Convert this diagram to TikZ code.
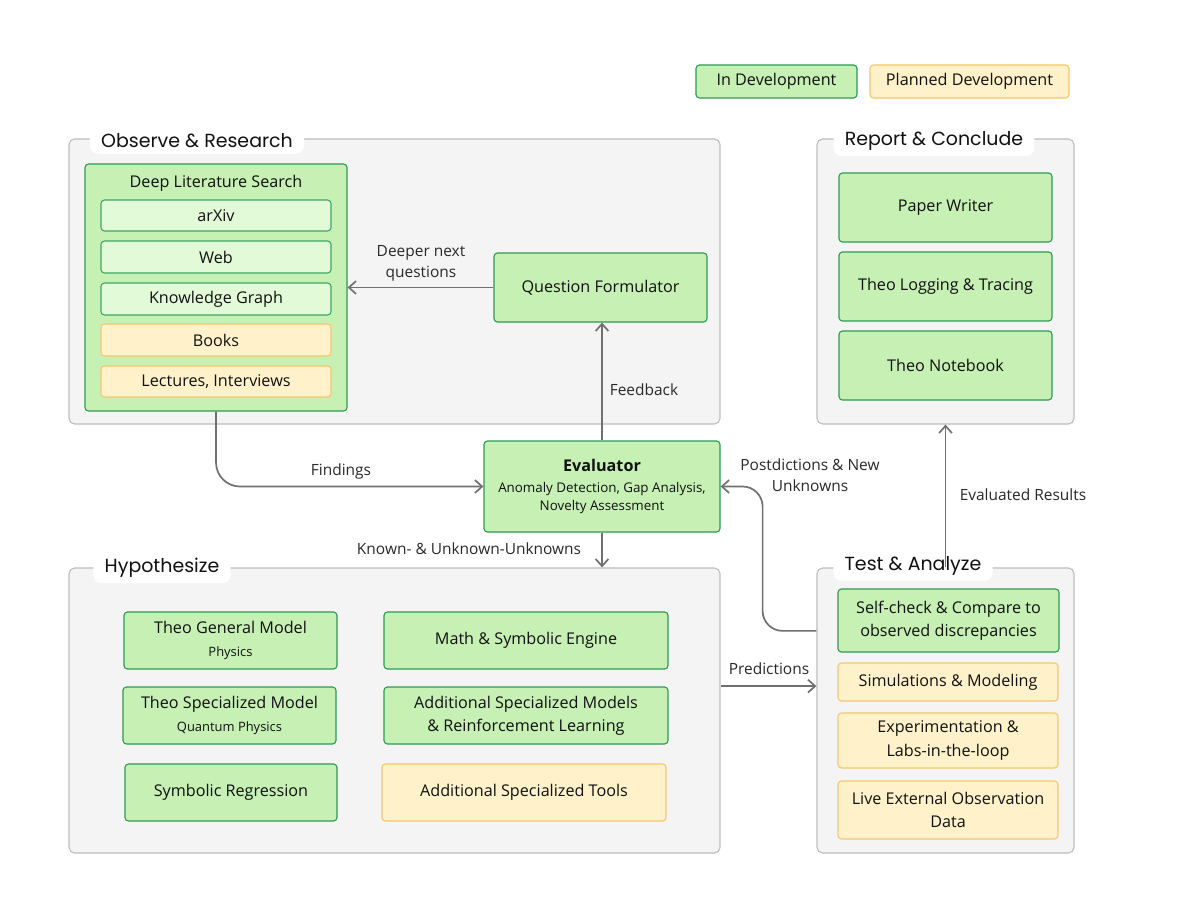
\documentclass[tikz,border=0pt]{standalone}
\usepackage{fontspec}
\setmainfont{Open Sans}
\newfontfamily\headfont{Poppins}
\usepackage{tikz}
\usetikzlibrary{arrows.meta,positioning,fit,calc}
\definecolor{devfill}{HTML}{C7F0B5}
\definecolor{devline}{HTML}{2E9A55}
\definecolor{litefill}{HTML}{E3FAD8}
\definecolor{liteline}{HTML}{3DA862}
\definecolor{planfill}{HTML}{FFF2CA}
\definecolor{planline}{HTML}{F5C76B}
\definecolor{zonefill}{HTML}{F4F4F4}
\definecolor{zoneline}{HTML}{BEBEBE}
\definecolor{wire}{HTML}{707070}
\definecolor{ink}{HTML}{111111}
\newcommand{\bodyfont}{\fontsize{11.5}{16.5}\selectfont}
\newcommand{\smallfont}{\fontsize{9.2}{11}\selectfont}
\newcommand{\labelfont}{\fontsize{11}{15}\selectfont}
\tikzset{
  devbox/.style  ={rounded corners=2.5pt,draw=devline,line width=0.8pt,fill=devfill,
                   inner sep=0pt,align=center,font=\bodyfont,text=ink},
  litebox/.style ={rounded corners=2.5pt,draw=liteline,line width=0.8pt,fill=litefill,
                   inner sep=0pt,align=center,font=\bodyfont,text=ink},
  planbox/.style ={rounded corners=2.5pt,draw=planline,line width=0.8pt,fill=planfill,
                   inner sep=0pt,align=center,font=\bodyfont,text=ink},
  zone/.style    ={rounded corners=4pt,draw=zoneline,line width=0.8pt,fill=zonefill,
                   inner sep=0pt},
  tab/.style     ={rounded corners=6pt,fill=white,inner xsep=8pt,inner ysep=4pt,
                   font=\headfont\fontsize{13.5}{16}\selectfont,text=ink},
  flow/.style    ={-{Straight Barb[length=1.8mm,width=3.2mm]},line width=1.2pt,draw=wire},
  tag/.style     ={font=\labelfont,align=center,text=ink!90}
}
\begin{document}
\begin{tikzpicture}[x=0.025cm,y=-0.025cm]
  \useasboundingbox[fill=white] (0,0) rectangle (1188,918);
  % legend
  \node[devbox,minimum width=4.025cm,minimum height=0.825cm] (legdev) at (776.5,81.5) {In Development};
  \node[planbox,minimum width=4.975cm,minimum height=0.825cm] (legplan) at (969.5,81.5) {Planned Development};
  % stage groups
  \node[zone,fit={(69,139)(720,424)}] (observe) {};
  \node[zone,fit={(69,568)(720,853)}] (hypo) {};
  \node[zone,fit={(817,139)(1074,424)}] (report) {};
  \node[zone,fit={(817,568)(1074,853)}] (test) {};
  \node[tab] (observetitle) at (197,141) {Observe \& Research};
  \node[tab] (hypotitle) at (162,568) {Hypothesize};
  \node[tab] (reporttitle) at (934,141) {Report \& Conclude};
  \node[tab] (testtitle) at (913,566) {Test \& Analyze};
  % observe
  \node[devbox,fit={(85,164)(347,411)}] (dls) {};
  \node[font=\bodyfont,text=ink] (dlstitle) at (216,183) {Deep Literature Search};
  \node[litebox,minimum width=5.75cm,minimum height=0.775cm] (arxiv) at (216,215.5) {arXiv};
  \node[litebox,minimum width=5.75cm,minimum height=0.8cm] (web) at (216,257) {Web};
  \node[litebox,minimum width=5.75cm,minimum height=0.8cm] (kgraph) at (216,299) {Knowledge Graph};
  \node[planbox,minimum width=5.75cm,minimum height=0.8cm] (books) at (216,340) {Books};
  \node[planbox,minimum width=5.75cm,minimum height=0.775cm] (lectures) at (216,381.5) {Lectures, Interviews};
  \node[devbox,minimum width=5.325cm,minimum height=1.725cm] (qform) at (600.5,287.5) {Question Formulator};
  % evaluator
  \node[devbox,minimum width=5.9cm,minimum height=2.275cm,font=\fontsize{9.5}{12.8}\selectfont] (eval) at (602,486.5)
    {{\fontsize{11.5}{14}\selectfont\bfseries Evaluator}\\[2pt]Anomaly Detection, Gap Analysis,\\Novelty Assessment};
  % hypothesize
  \node[devbox,minimum width=5.325cm,minimum height=1.425cm] (general) at (230.5,640.5)
    {Theo General Model\\{\smallfont Physics}};
  \node[devbox,minimum width=5.325cm,minimum height=1.425cm] (special) at (229.5,715.5)
    {Theo Specialized Model\\{\smallfont Quantum Physics}};
  \node[devbox,minimum width=5.3cm,minimum height=1.425cm] (symreg) at (231,792.5) {Symbolic Regression};
  \node[devbox,minimum width=7.1cm,minimum height=1.425cm] (mathengine) at (526,640.5) {Math \& Symbolic Engine};
  \node[devbox,minimum width=7.1cm,minimum height=1.425cm] (addmodels) at (526,715.5)
    {Additional Specialized Models\\\& Reinforcement Learning};
  \node[planbox,minimum width=7.1cm,minimum height=1.425cm] (addtools) at (524,792.5) {Additional Specialized Tools};
  % report
  \node[devbox,minimum width=5.325cm,minimum height=1.725cm] (paper) at (945.5,207.5) {Paper Writer};
  \node[devbox,minimum width=5.325cm,minimum height=1.725cm] (logging) at (945.5,286.5) {Theo Logging \& Tracing};
  \node[devbox,minimum width=5.325cm,minimum height=1.725cm] (notebook) at (945.5,365.5) {Theo Notebook};
  % test
  \node[devbox,minimum width=5.525cm,minimum height=1.575cm] (selfcheck) at (948.5,620.5)
    {Self-check \& Compare to\\observed discrepancies};
  \node[planbox,minimum width=5.5cm,minimum height=0.95cm] (simul) at (948,682) {Simulations \& Modeling};
  \node[planbox,minimum width=5.5cm,minimum height=1.375cm] (experiment) at (948,740.5)
    {Experimentation \&\\Labs-in-the-loop};
  \node[planbox,minimum width=5.5cm,minimum height=1.45cm] (liveobs) at (948,810)
    {Live External Observation\\Data};
  % connectors
  \draw[flow] (qform.west) -- (qform.west -| dls.east);
  \draw[flow] (eval.north) -- (eval.north |- qform.south);
  \draw[flow,rounded corners=0.6cm] (dls.south) |- (eval.west);
  \draw[flow] (eval.south) -- (eval.south |- hypo.north);
  \draw[flow] ([yshift=0.61cm]hypo.east) -- ([yshift=0.61cm]test.west);
  \draw[flow] (test.north) -- (report.south);
  \coordinate (postbend) at ($(eval.east)+(42,0)$);
  \draw[flow,rounded corners=0.5cm] ([yshift=1.99cm]test.west) -| (postbend) -- (eval.east);
  % connector labels
  \node[tag] (deeperlbl) at (421,263) {Deeper next\\questions};
  \node[tag] (feedbacklbl) at (644,390) {Feedback};
  \node[tag] (findingslbl) at (341,471) {Findings};
  \node[tag] (knownlbl) at (469,549) {Known- \& Unknown-Unknowns};
  \node[tag] (predlbl) at (769,669) {Predictions};
  \node[tag] (evallbl) at (1023,495) {Evaluated Results};
  \node[tag] (postlbl) at (810,475) {Postdictions \& New\\Unknowns};
\end{tikzpicture}
\end{document}
